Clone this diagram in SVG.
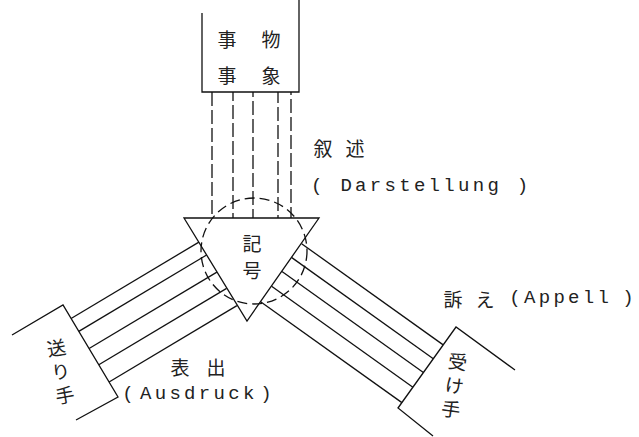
<svg xmlns="http://www.w3.org/2000/svg" width="639" height="437" viewBox="0 0 639 437">
<style>
.ln{fill:none;stroke:#111;stroke-width:1.3;stroke-linecap:butt}
.dv{fill:none;stroke:#111;stroke-width:1.3;stroke-dasharray:14 4}
.dc{fill:none;stroke:#111;stroke-width:1.3;stroke-dasharray:10 5}
.cj{font-family:"Noto Sans CJK JP","Noto Sans CJK SC",sans-serif;font-size:19px;fill:#222;text-anchor:middle;dominant-baseline:central}
.vt{font-family:"Noto Sans CJK JP","Noto Sans CJK SC",sans-serif;font-size:19px;fill:#222;text-anchor:middle;writing-mode:vertical-rl;letter-spacing:5px}
.la{font-family:"Liberation Mono","DejaVu Sans Mono",monospace;font-size:19px;fill:#222;letter-spacing:3.3px}
.pa{font-family:"Liberation Mono","DejaVu Sans Mono",monospace;font-size:19px;fill:#222;text-anchor:middle}
</style>
<rect width="639" height="437" fill="#fff"/>
<g id="connectors">
  <g id="darstellung-lines">
    <line class="dv" x1="212" y1="92" x2="212" y2="218"/>
    <line class="dv" x1="233" y1="92" x2="233" y2="218" stroke-dashoffset="5"/>
    <line class="dv" x1="253" y1="92" x2="253" y2="218" stroke-dashoffset="9"/>
    <line class="dv" x1="278" y1="92" x2="278" y2="218" stroke-dashoffset="3"/>
    <line class="dv" x1="291" y1="92" x2="291" y2="218" stroke-dashoffset="11"/>
  </g>
  <g id="ausdruck-lines">
    <line class="ln" x1="71.1" y1="318.5" x2="198.9" y2="242.1"/>
    <line class="ln" x1="78.8" y1="331.4" x2="206.6" y2="255.0"/>
    <line class="ln" x1="89.1" y1="348.5" x2="216.9" y2="272.1"/>
    <line class="ln" x1="98.8" y1="364.8" x2="226.6" y2="288.4"/>
    <line class="ln" x1="109.1" y1="382.0" x2="236.9" y2="305.6"/>
  </g>
  <g id="appell-lines">
    <line class="ln" x1="301.6" y1="243.7" x2="443.2" y2="344.9"/>
    <line class="ln" x1="291.8" y1="257.6" x2="433.3" y2="358.7"/>
    <line class="ln" x1="282.0" y1="271.5" x2="423.4" y2="372.5"/>
    <line class="ln" x1="271.6" y1="286.2" x2="412.9" y2="387.2"/>
    <line class="ln" x1="260.6" y1="301.7" x2="401.9" y2="402.6"/>
  </g>
</g>
<g id="thing">
  <path class="ln" d="M202,13 V92 H299 V0"/>
  <text class="cj" x="227" y="38">事</text>
  <text class="cj" x="271" y="38">物</text>
  <text class="cj" x="227" y="74">事</text>
  <text class="cj" x="271" y="74">象</text>
</g>
<g id="sign">
  <polygon class="ln" points="184,218 319,218 247,321"/>
  <circle class="dc" cx="254" cy="251" r="53"/>
  <text class="cj" x="252" y="242">記</text>
  <text class="cj" x="252" y="269">号</text>
</g>
<g id="sender">
  <path class="ln" d="M12,335 L63,305 L118,397 L76,420"/>
  <text class="vt" x="61" y="374" transform="rotate(-10 61 374)">送り手</text>
</g>
<g id="receiver">
  <path class="ln" d="M515,370 L456,327 L398,408 L433,436"/>
  <text class="vt" x="454" y="388" transform="rotate(8 454 388)">受け手</text>
</g>
<g id="labels">
  <text class="cj" x="323" y="147">叙</text>
  <text class="cj" x="355" y="147">述</text>
  <text class="la" x="311" y="191">( Darstellung )</text>
  <text class="cj" x="180" y="366">表</text>
  <text class="cj" x="216" y="366">出</text>
  <text class="pa" x="128" y="399">(</text>
  <text class="la" x="140" y="399">Ausdruck</text>
  <text class="pa" x="266" y="399">)</text>
  <text class="cj" x="453" y="298">訴</text>
  <text class="cj" x="485" y="298">え</text>
  <text class="pa" x="515" y="303">(</text>
  <text class="la" x="524" y="303">Appell</text>
  <text class="pa" x="628" y="303">)</text>
</g>
</svg>
